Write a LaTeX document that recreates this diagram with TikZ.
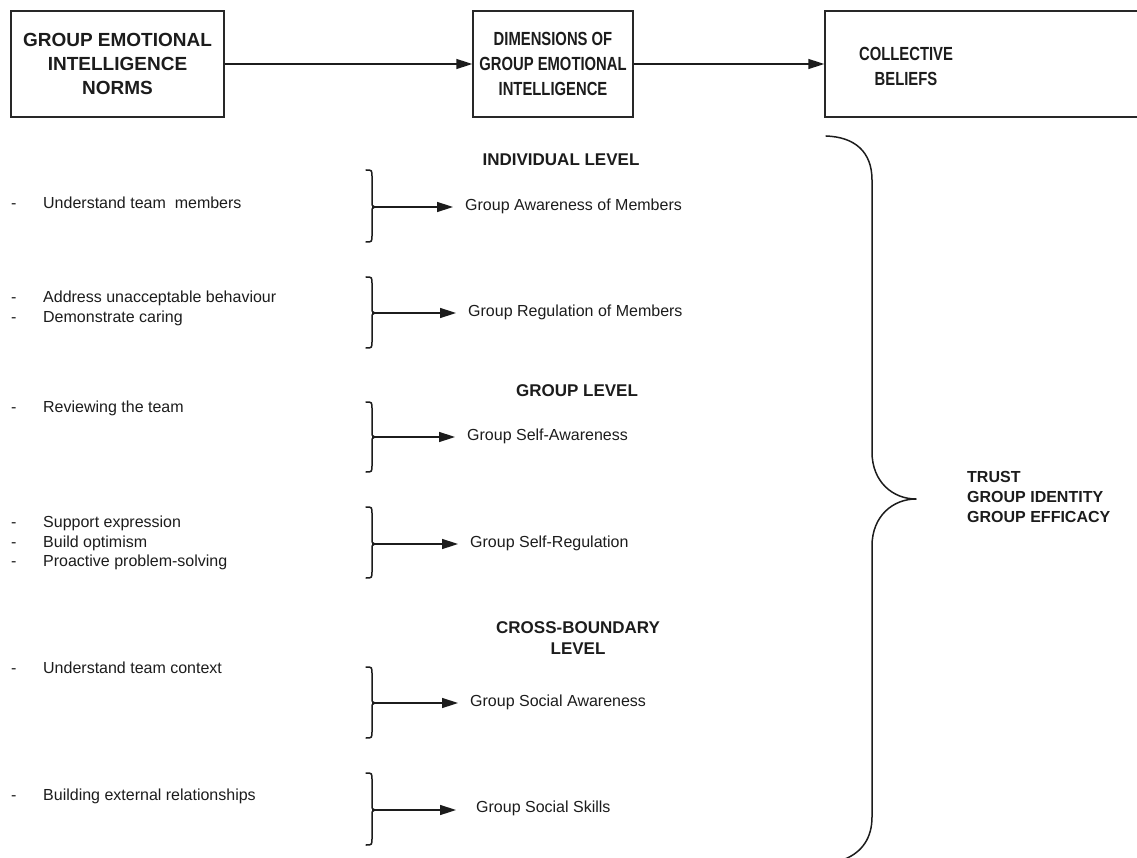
\documentclass[tikz,border=0pt]{standalone}
\usepackage{fontspec}
\setmainfont{Liberation Sans}
\newfontfamily\condsans[FakeStretch=0.78]{Liberation Sans}
\usetikzlibrary{arrows.meta}
\definecolor{ink}{RGB}{28,28,28}
\definecolor{edge}{RGB}{40,40,40}
\newcommand{\smallbrace}[3]{% top, mid, bottom
  \draw[brc] (366,#1) .. controls (372,#1) .. (372,#1+7) -- (372,#2-5)
    .. controls (372,#2-1) .. (375,#2) .. controls (372,#2+1) .. (372,#2+5)
    -- (372,#3-7) .. controls (372,#3) .. (366,#3);}
\begin{document}
\begin{tikzpicture}[x=1pt,y=-1pt,
  every node/.style={text=ink},
  topbox/.style={draw=edge, line width=1.5pt, inner sep=0pt, minimum height=106pt, align=center,
                 font=\fontsize{19}{24}\selectfont\bfseries},
  condbox/.style={topbox, font=\condsans\fontsize{19}{25}\selectfont\bfseries},
  arr/.style={draw=ink, line width=1.5pt, -{Triangle[length=16pt,width=10pt]}},
  brc/.style={draw=ink, line width=1.5pt, line cap=round, line join=round},
  dim/.style={anchor=west, inner xsep=12pt, inner ysep=0pt, font=\fontsize{16}{19.5}\selectfont},
  lvl/.style={inner sep=0pt, align=center, font=\fontsize{17}{20.5}\selectfont\bfseries},
  items/.style={anchor=west, inner sep=0pt, align=left, font=\fontsize{16}{19.8}\selectfont},
  belief/.style={anchor=west, inner sep=0pt, align=left, font=\fontsize{16}{19.6}\selectfont\bfseries}
]
\useasboundingbox (0,0) rectangle (1137,858);
\clip (0,0) rectangle (1137,858);

% top row
\node[topbox, minimum width=213pt] (box1) at (117.5,64) {GROUP EMOTIONAL\\INTELLIGENCE\\NORMS};
\node[condbox, minimum width=160pt] (box2) at (553,64) {DIMENSIONS OF\\GROUP EMOTIONAL\\INTELLIGENCE};
\node[topbox, minimum width=335pt] (box3) at (992.5,64) {};
\node[inner sep=0pt, align=center, font=\condsans\fontsize{19}{25}\selectfont\bfseries] (box3t) at (906,66) {COLLECTIVE\\BELIEFS};
\draw[arr] (box1) -- (box2);
\draw[arr] (box2) -- (box3);

% level headings
\node[lvl] (lv1) at (561,160) {INDIVIDUAL LEVEL};
\node[lvl] (lv2) at (577,391) {GROUP LEVEL};
\node[lvl] (lv3) at (578,638) {CROSS-BOUNDARY\\LEVEL};

% left norm lists
\node[items] (n1) at (11,203) {\makebox[32pt][l]{-}Understand team\ \ members};
\node[items] (n2) at (11,308) {\makebox[32pt][l]{-}Address unacceptable behaviour\\\makebox[32pt][l]{-}Demonstrate caring};
\node[items] (n3) at (11,408) {\makebox[32pt][l]{-}Reviewing the team};
\node[items] (n4) at (11,543) {\makebox[32pt][l]{-}Support expression\\\makebox[32pt][l]{-}Build optimism\\\makebox[32pt][l]{-}Proactive problem-solving};
\node[items] (n5) at (11,668) {\makebox[32pt][l]{-}Understand team context};
\node[items] (n6) at (11,796) {\makebox[32pt][l]{-}Building external relationships};

% small braces and arrows
\smallbrace{170}{207}{242}
\smallbrace{277}{313}{348}
\smallbrace{402}{437}{472}
\smallbrace{507}{544}{578}
\smallbrace{667}{703}{738}
\smallbrace{773}{810}{845}
\coordinate (c1) at (372,207);
\coordinate (c2) at (372,313);
\coordinate (c3) at (372,437);
\coordinate (c4) at (372,544);
\coordinate (c5) at (372,703);
\coordinate (c6) at (372,810);

\node[dim] (d1) at (453,206) {Group Awareness of Members};
\node[dim] (d2) at (456,312) {Group Regulation of Members};
\node[dim] (d3) at (455,436) {Group Self-Awareness};
\node[dim] (d4) at (458,543) {Group Self-Regulation};
\node[dim] (d5) at (458,702) {Group Social Awareness};
\node[dim, inner xsep=20pt] (d6) at (456,808) {Group Social Skills};
\draw[arr] (c1) -- (c1 -| d1.west);
\draw[arr] (c2) -- (c2 -| d2.west);
\draw[arr] (c3) -- (c3 -| d3.west);
\draw[arr] (c4) -- (c4 -| d4.west);
\draw[arr] (c5) -- (c5 -| d5.west);
\draw[arr] (c6) -- (c6 -| d6.west);

% big brace
\coordinate (bb) at (916,499);
\draw[brc] (826,136) .. controls (855,137) and (872,152) .. (872,180) -- (872,452)
  .. controls (872,482) and (893,499) .. (bb)
  .. controls (893,499) and (872,516) .. (872,546) -- (872,817)
  .. controls (872,838) and (862,852) .. (845,859);

\node[belief] (cb) at (967,497) {TRUST\\GROUP IDENTITY\\GROUP EFFICACY};
\end{tikzpicture}
\end{document}
